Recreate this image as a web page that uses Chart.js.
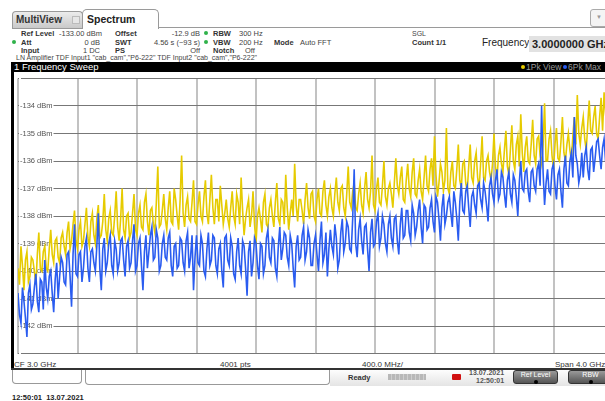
<!DOCTYPE html>
<html>
<head>
<meta charset="utf-8">
<script src="https://cdn.jsdelivr.net/npm/chart.js@4.4.1/dist/chart.umd.min.js"></script>
<style>
html, body { margin:0; padding:0; width:605px; height:401px; overflow:hidden; background:#fff; }
body { position:relative; font-family:"Liberation Sans", Arial, sans-serif; color:#444; }
.t { position:absolute; font-size:7.5px; line-height:9px; white-space:nowrap; }
.b { font-weight:bold; color:#333; }
.r { text-align:right; }
.dot { position:absolute; width:4px; height:4px; border-radius:50%; background:#2fb24a; }
.tab { position:absolute; box-sizing:border-box; border:1px solid #9a9a9a; border-bottom:none; }
.btn { position:absolute; box-sizing:border-box; border:1px solid #333; border-radius:3px;
       background:linear-gradient(#9a9a9a,#555); color:#fff; font-size:7px; text-align:center; line-height:8px; }
.btn i { display:block; width:4px; height:4px; border-radius:50%; background:#000; margin:1px auto 0; }
#plotWrap { position:absolute; left:14px; top:72px; width:599px; height:288px; }
</style>
</head>
<body>

<!-- tabs -->
<div class="tab" style="left:12px;top:11px;width:71px;height:17px;background:linear-gradient(#ececec,#c9c9c9);border-radius:4px 4px 0 0;"></div>
<div class="t b" style="left:16px;top:14px;font-size:10px;line-height:12px;">MultiView</div>
<div style="position:absolute;left:72px;top:16px;width:6px;height:6px;background:#e6e6e6;border:1px solid #bbb;"></div>
<div class="tab" style="left:82px;top:9px;width:77px;height:20px;background:#fff;border-radius:5px 5px 0 0;"></div>
<div class="t b" style="left:87px;top:13px;font-size:10.5px;line-height:12px;color:#222;">Spectrum</div>
<div style="position:absolute;left:158px;top:27px;width:447px;height:1px;background:#9a9a9a;"></div>
<div style="position:absolute;left:12px;top:28px;width:70px;height:1px;background:#9a9a9a;"></div>
<div style="position:absolute;left:590px;top:9px;width:20px;height:18px;box-sizing:border-box;border:1px solid #aaa;border-radius:3px;background:#f4f4f4;"></div>
<div class="t" style="left:596px;top:13px;color:#999;font-size:6px;">&#9660;</div>

<!-- setting rows -->
<div class="t b" style="left:21px;top:28.5px;">Ref Level</div>
<div class="t" style="left:59px;top:28.5px;">-133.00 dBm</div>
<div class="t b" style="left:115px;top:28.5px;">Offset</div>
<div class="t r" style="left:150px;width:50px;top:28.5px;">-12.9 dB</div>
<div class="dot" style="left:204px;top:31px;"></div>
<div class="t b" style="left:213px;top:28.5px;">RBW</div>
<div class="t" style="left:239px;top:28.5px;">300 Hz</div>
<div class="t" style="left:412px;top:28.5px;font-size:7px;">SGL</div>

<div class="dot" style="left:12px;top:40px;"></div>
<div class="t b" style="left:21px;top:37.5px;">Att</div>
<div class="t r" style="left:60px;width:40px;top:37.5px;">0 dB</div>
<div class="t b" style="left:115px;top:37.5px;">SWT</div>
<div class="t r" style="left:140px;width:60px;top:37.5px;">4.56 s (~93 s)</div>
<div class="dot" style="left:204px;top:40px;"></div>
<div class="t b" style="left:213px;top:37.5px;">VBW</div>
<div class="t" style="left:239px;top:37.5px;">200 Hz</div>
<div class="t b" style="left:274px;top:37.5px;">Mode</div>
<div class="t" style="left:300px;top:37.5px;">Auto FFT</div>
<div class="t b" style="left:412px;top:37.5px;font-size:7.5px;">Count 1/1</div>

<div class="t" style="left:482px;top:37px;font-size:10px;line-height:12px;color:#222;">Frequency</div>
<div style="position:absolute;left:529px;top:36px;width:80px;height:16px;background:#e2e2e2;"></div>
<div class="t b" style="left:532px;top:38px;font-size:11px;line-height:12px;color:#222;">3.0000000 GHz</div>

<div class="t b" style="left:21px;top:45.5px;">Input</div>
<div class="t r" style="left:60px;width:40px;top:45.5px;">1 DC</div>
<div class="t b" style="left:115px;top:45.5px;">PS</div>
<div class="t r" style="left:150px;width:50px;top:45.5px;">Off</div>
<div class="t b" style="left:213px;top:45.5px;">Notch</div>
<div class="t" style="left:245px;top:45.5px;">Off</div>

<div class="t" style="left:16px;top:54px;font-size:7px;line-height:8px;">LN Amplifier TDF Input1 "cab_cam","P6-222" TDF Input2 "cab_cam","P6-222"</div>

<!-- sweep title bar -->
<div style="position:absolute;left:11px;top:62px;width:594px;height:10px;background:#000;"></div>
<div class="t" style="left:14px;top:62px;font-size:9.5px;line-height:10px;color:#fff;">1 Frequency Sweep</div>
<div class="dot" style="left:521px;top:65px;background:#e6cb00;width:4px;height:4px;"></div>
<div class="t" style="left:526px;top:62px;font-size:8.5px;line-height:10px;color:#9a9a9a;">1Pk View</div>
<div class="dot" style="left:563px;top:65px;background:#2a5cf0;width:4px;height:4px;"></div>
<div class="t" style="left:568px;top:62px;font-size:8.5px;line-height:10px;color:#9a9a9a;">6Pk Max</div>

<div id="plotWrap"><canvas id="sweepChart" width="599" height="288"></canvas></div>
<div style="position:absolute;left:11px;top:62px;width:3px;height:308px;background:#000;"></div>

<!-- footer of the diagram -->
<div class="t" style="left:14px;top:359.5px;color:#333;font-size:8px;">CF 3.0 GHz</div>
<div class="t" style="left:220px;top:359.5px;color:#333;font-size:8px;">4001 pts</div>
<div class="t" style="left:362px;top:359.5px;color:#333;font-size:8px;">400.0 MHz/</div>
<div class="t" style="left:555px;top:359.5px;color:#333;font-size:8px;">Span 4.0 GHz</div>
<div style="position:absolute;left:11px;top:368px;width:594px;height:2px;background:#333;"></div>

<!-- status bar -->
<div style="position:absolute;left:330px;top:370px;width:275px;height:16px;background:linear-gradient(#fdfdfd,#e4e4e4);"></div>
<div style="position:absolute;left:12px;top:370px;width:70px;height:14px;box-sizing:border-box;border:1px solid #999;border-top:none;border-radius:0 0 4px 4px;background:#fff;"></div>
<div style="position:absolute;left:85px;top:370px;width:245px;height:15px;box-sizing:border-box;border:1px solid #999;border-top:none;border-radius:0 0 4px 4px;background:#fff;"></div>
<div class="t b" style="left:348px;top:373px;font-size:7.5px;">Ready</div>
<div style="position:absolute;left:388px;top:374px;width:38px;height:6px;background:repeating-linear-gradient(90deg,#b8b8b8 0 3px,#cfcfcf 3px 4px);"></div>
<div style="position:absolute;left:452px;top:374px;width:9px;height:6px;background:#d01010;border-radius:1px;"></div>
<div class="t b" style="left:469px;top:369px;font-size:7px;line-height:8px;color:#555;">13.07.2021</div>
<div class="t b" style="left:476px;top:377px;font-size:7px;line-height:8px;color:#555;">12:50:01</div>
<div class="btn" style="left:513px;top:370px;width:45px;height:14px;">Ref Level<i></i></div>
<div class="btn" style="left:568px;top:370px;width:45px;height:14px;">RBW<i></i></div>

<div class="t b" style="left:12px;top:393px;font-size:7.5px;color:#222;">12:50:01&nbsp; 13.07.2021</div>

<script>
// sweep: 1 GHz .. 5 GHz (CF 3.0 GHz, span 4.0 GHz), one point every 10 MHz
const sweepStartMHz = 1000;
const sweepStepMHz = 10;
const freqGridMHz = [1000, 1400, 1800, 2200, 2600, 3000, 3400, 3800, 4200, 4600, 5000];
const levelTicksDbm = [-143, -142, -141, -140, -139, -138, -137, -136, -135, -134, -133];

// trace 1: 1Pk View (yellow), dBm
const pkView = [
  -139.9, -140.5, -139.1, -139.8, -140.7, -139.6, -139.3, -140.4, -140.2, -139.5,
  -139.6, -140.0, -140.5, -139.4, -138.6, -139.9, -140.0, -139.3, -139.1, -139.9,
  -140.0, -139.2, -138.5, -139.4, -139.7, -138.9, -138.8, -139.5, -139.7, -138.8,
  -138.6, -139.1, -139.4, -138.6, -138.2, -139.2, -138.9, -138.3, -137.8, -138.9,
  -139.2, -138.5, -138.2, -139.1, -138.9, -138.3, -137.7, -138.8, -139.1, -138.2,
  -137.9, -138.7, -139.0, -138.1, -137.6, -138.8, -138.7, -138.2, -137.2, -138.5,
  -138.9, -138.1, -137.8, -138.6, -138.7, -138.0, -137.1, -138.4, -138.9, -138.1,
  -137.0, -138.5, -138.8, -138.0, -137.9, -138.8, -138.6, -137.9, -137.2, -138.5,
  -138.7, -137.9, -137.6, -138.4, -138.5, -137.5, -137.2, -138.2, -138.7, -137.8,
  -137.7, -138.3, -138.6, -137.5, -136.2, -138.4, -138.3, -137.8, -137.2, -138.1,
  -138.5, -137.7, -137.1, -138.2, -138.3, -137.0, -137.4, -138.0, -138.5, -137.4,
  -135.8, -137.9, -138.4, -137.6, -137.3, -138.1, -138.2, -137.5, -136.7, -138.2,
  -138.3, -137.6, -137.1, -138.0, -138.2, -137.3, -136.7, -137.9, -138.3, -137.4,
  -136.5, -137.7, -138.3, -137.4, -137.4, -138.2, -136.9, -137.6, -138.3, -137.9,
  -137.4, -138.1, -138.4, -137.7, -137.1, -138.0, -138.3, -137.2, -137.5, -138.3,
  -136.6, -137.8, -138.7, -138.1, -137.7, -137.4, -138.4, -138.0, -137.1, -138.3,
  -139.0, -138.0, -137.7, -138.1, -138.6, -137.5, -137.2, -138.3, -138.4, -137.7,
  -137.4, -138.0, -138.4, -137.5, -136.8, -138.1, -138.3, -137.4, -137.5, -138.3,
  -136.5, -137.7, -138.5, -137.9, -137.4, -138.0, -136.1, -137.6, -138.2, -137.4,
  -137.4, -137.8, -138.3, -137.4, -136.8, -137.7, -138.1, -137.2, -137.1, -138.0,
  -138.2, -137.4, -137.0, -137.9, -138.0, -137.1, -136.7, -137.6, -138.0, -137.3,
  -137.0, -137.7, -138.0, -137.2, -136.6, -137.5, -137.8, -137.0, -136.9, -137.7,
  -138.0, -137.2, -136.2, -137.5, -137.7, -137.1, -136.8, -137.7, -137.8, -137.2,
  -136.8, -137.6, -137.9, -137.0, -136.4, -137.4, -137.7, -137.1, -135.8, -137.6,
  -137.8, -137.0, -136.6, -137.5, -137.6, -136.9, -136.0, -137.3, -137.6, -137.0,
  -136.8, -137.2, -137.7, -136.8, -135.9, -136.9, -137.2, -136.6, -136.2, -137.4,
  -137.5, -136.7, -136.1, -137.0, -137.3, -136.4, -135.9, -137.2, -137.3, -136.7,
  -136.3, -137.1, -137.4, -136.6, -135.8, -136.9, -137.1, -136.3, -135.9, -136.9,
  -135.1, -136.5, -137.3, -136.8, -136.1, -136.4, -137.1, -136.7, -134.8, -137.0,
  -137.2, -136.4, -136.0, -136.9, -137.0, -136.3, -135.4, -136.7, -137.0, -136.1,
  -136.0, -136.8, -137.1, -136.2, -135.4, -136.6, -136.8, -136.0, -135.7, -136.6,
  -137.0, -136.1, -135.1, -136.6, -136.7, -136.0, -135.8, -136.4, -136.7, -136.1,
  -135.0, -136.2, -136.7, -135.8, -135.5, -136.1, -136.4, -135.6, -134.9, -136.2,
  -136.5, -135.6, -134.7, -136.0, -136.3, -135.4, -135.1, -136.2, -134.3, -135.7,
  -136.4, -135.5, -135.1, -136.0, -136.1, -135.4, -134.5, -135.8, -136.1, -135.2,
  -135.1, -135.8, -136.1, -135.4, -133.9, -136.0, -136.0, -135.2, -134.9, -135.8,
  -136.3, -135.4, -134.8, -135.9, -136.0, -135.3, -134.4, -135.7, -136.0, -135.4,
  -135.0, -135.6, -136.0, -135.1, -134.4, -135.4, -133.6, -135.0, -135.4, -134.8,
  -134.4, -135.2, -135.6, -134.7, -133.8, -134.9, -135.0, -134.4, -134.0, -135.0,
  -135.2, -134.4, -133.7, -134.9, -133.5, -134.3, -134.8, -134.1, -133.8, -134.8,
  -134.7
];

// trace 2: 6Pk Max (blue), dBm
const pkMax = [
  -140.8, -141.6, -141.9, -140.6, -141.1, -141.7, -142.4, -140.8, -140.5, -141.4,
  -141.2, -140.6, -140.1, -141.1, -141.5, -140.3, -140.4, -141.4, -139.6, -140.6,
  -141.0, -140.2, -140.0, -140.8, -141.5, -140.3, -139.7, -141.0, -140.2, -139.5,
  -139.7, -140.4, -140.5, -139.4, -139.3, -140.2, -141.3, -139.4, -138.3, -140.1,
  -140.2, -139.4, -139.3, -140.4, -139.9, -139.1, -138.8, -139.9, -140.4, -139.3,
  -139.2, -139.7, -140.0, -139.1, -137.9, -139.9, -140.7, -139.2, -138.8, -140.0,
  -139.7, -139.0, -138.7, -139.8, -140.1, -138.9, -139.2, -140.0, -139.7, -138.9,
  -138.8, -139.6, -140.2, -139.1, -138.9, -139.9, -139.7, -138.9, -138.3, -140.0,
  -139.8, -139.0, -138.8, -139.8, -140.7, -139.3, -138.7, -139.9, -139.3, -138.7,
  -138.4, -139.6, -139.5, -138.5, -138.8, -140.0, -139.8, -139.0, -138.7, -139.5,
  -139.6, -138.8, -138.6, -139.8, -140.2, -139.1, -139.0, -139.9, -139.8, -138.8,
  -138.9, -139.7, -140.0, -138.9, -138.6, -139.9, -139.5, -138.7, -140.7, -139.5,
  -138.7, -139.7, -139.8, -138.7, -139.0, -140.0, -140.2, -139.2, -138.6, -139.8,
  -139.6, -138.7, -138.8, -139.8, -140.1, -139.2, -139.0, -140.0, -140.6, -138.8,
  -138.7, -139.6, -139.8, -138.8, -139.1, -140.1, -140.3, -139.3, -138.8, -139.8,
  -140.1, -138.9, -139.1, -139.9, -140.9, -139.3, -138.9, -140.2, -139.7, -138.8,
  -139.0, -139.8, -140.3, -139.0, -139.1, -140.1, -139.8, -138.8, -138.5, -139.5,
  -139.7, -138.8, -138.9, -139.9, -140.2, -139.1, -138.4, -139.6, -139.2, -138.6,
  -138.7, -139.5, -139.8, -138.7, -139.0, -139.9, -140.6, -139.1, -138.7, -139.6,
  -139.5, -138.7, -138.4, -139.6, -139.3, -138.5, -138.8, -139.8, -139.8, -139.0,
  -138.7, -139.4, -140.0, -138.9, -138.2, -139.7, -139.4, -138.6, -140.2, -139.2,
  -138.5, -139.1, -139.4, -138.3, -138.8, -139.9, -139.6, -138.6, -138.1, -139.3,
  -139.0, -138.2, -138.4, -139.2, -139.3, -138.1, -136.3, -139.0, -139.5, -138.5,
  -138.1, -138.9, -139.4, -138.4, -138.3, -139.2, -140.0, -138.6, -138.1, -139.1,
  -139.0, -138.2, -137.9, -139.1, -138.8, -138.0, -138.3, -139.0, -139.3, -138.3,
  -138.0, -138.8, -139.1, -138.1, -138.0, -138.9, -139.4, -138.3, -137.7, -138.8,
  -138.7, -137.8, -137.8, -138.6, -138.9, -137.6, -137.9, -138.7, -138.4, -137.8,
  -137.4, -138.4, -139.0, -137.6, -137.7, -138.5, -138.4, -137.7, -137.4, -138.2,
  -138.6, -137.3, -137.5, -138.1, -138.9, -137.7, -137.2, -138.3, -138.0, -137.5,
  -137.3, -137.9, -138.4, -137.1, -137.5, -138.1, -138.9, -137.5, -136.8, -137.8,
  -137.9, -137.1, -136.9, -137.7, -138.4, -137.3, -137.1, -137.6, -137.9, -136.9,
  -136.8, -137.4, -137.7, -136.8, -137.1, -137.6, -138.2, -136.9, -136.6, -137.2,
  -137.5, -136.7, -136.3, -137.4, -137.2, -136.4, -136.6, -137.2, -137.7, -136.7,
  -136.4, -137.2, -137.5, -136.5, -136.7, -137.3, -138.0, -136.8, -136.0, -137.0,
  -137.1, -136.4, -136.3, -137.1, -137.5, -136.4, -136.3, -136.9, -137.1, -136.3,
  -136.1, -136.9, -134.0, -136.4, -137.6, -136.8, -136.3, -137.1, -137.2, -136.3,
  -136.1, -136.9, -137.4, -136.5, -136.3, -137.1, -137.7, -136.3, -135.8, -136.8,
  -136.9, -136.0, -135.7, -136.6, -134.4, -135.8, -136.1, -136.8, -136.5, -135.7,
  -136.6, -135.8, -135.5, -136.3, -136.7, -135.6, -135.5, -136.4, -135.9, -135.3,
  -135.2, -135.8, -136.3, -135.5, -135.2, -136.0, -136.1, -135.0, -134.7, -135.7,
  -135.2
];

const toPoints = arr => arr.map((v, i) => ({ x: sweepStartMHz + i * sweepStepMHz, y: v }));

document.addEventListener('DOMContentLoaded', () => {
    const ctx = document.getElementById('sweepChart').getContext('2d');
    new Chart(ctx, {
        type: 'line',
        data: {
            datasets: [{
                label: '6Pk Max',
                data: toPoints(pkMax),
                borderColor: '#2a5cf0',
                borderWidth: 1.6,
                pointRadius: 0,
                tension: 0,
                order: 0
            }, {
                label: '1Pk View',
                data: toPoints(pkView),
                borderColor: '#e6cb00',
                borderWidth: 1.6,
                pointRadius: 0,
                tension: 0,
                order: 1
            }]
        },
        options: {
            responsive: false,
            animation: false,
            devicePixelRatio: 1,
            layout: { padding: 0 },
            plugins: {
                legend: { display: false },
                tooltip: { enabled: false }
            },
            scales: {
                x: {
                    type: 'linear',
                    min: 1000,
                    max: 5000,
                    afterBuildTicks: s => { s.ticks = freqGridMHz.map(v => ({ value: v })); },
                    ticks: { display: false },
                    grid: { color: '#c2c2c2', lineWidth: 2, drawTicks: false },
                    border: { display: false }
                },
                y: {
                    min: -143,
                    max: -133,
                    afterBuildTicks: s => { s.ticks = levelTicksDbm.map(v => ({ value: v })); },
                    ticks: {
                        mirror: true,
                        padding: 2,
                        color: '#555',
                        font: { family: 'Liberation Sans', size: 7.5 },
                        showLabelBackdrop: true,
                        backdropColor: '#fff',
                        backdropPadding: 1,
                        callback: v => (v === -133 || v === -143) ? '' : v + ' dBm'
                    },
                    grid: { color: '#777', lineWidth: 1, drawTicks: false },
                    border: { display: false }
                }
            }
        }
    });
});
</script>
</body>
</html>
